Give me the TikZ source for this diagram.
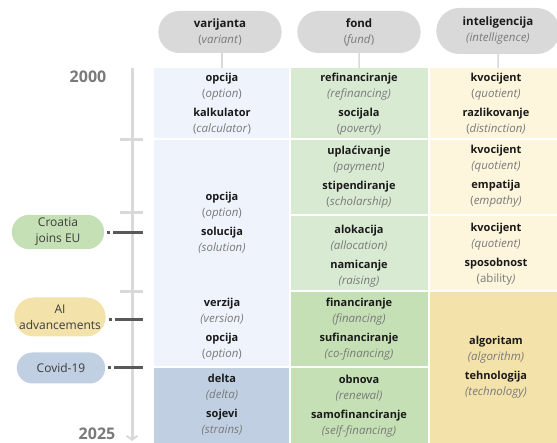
\documentclass[tikz,border=0pt]{standalone}
\usepackage{fontspec}
\setmainfont{Open Sans}
\usepackage{tikz}
\usetikzlibrary{calc}
\usetikzlibrary{shapes.misc}
\usetikzlibrary{arrows.meta}

\definecolor{hdrgray}{HTML}{D9D9D9}
\definecolor{varlight}{HTML}{EEF3FC}
\definecolor{vardark}{HTML}{C0CFE2}
\definecolor{fondlight}{HTML}{D9EAD3}
\definecolor{fonddark}{HTML}{C5E0B4}
\definecolor{intlight}{HTML}{FDF5DC}
\definecolor{intdark}{HTML}{F3E2AA}
\definecolor{transgray}{HTML}{7A7A7A}
\definecolor{markgray}{HTML}{595959}
\definecolor{darktext}{HTML}{1A1A1A}

% word with its translation below
\newcommand{\wrd}[2]{\textbf{#1}\\{\color{transgray}\fontsize{11.5}{16}\selectfont#2}}

\begin{document}
\begin{tikzpicture}[x=1pt,y=-1pt,
    header/.style={rounded rectangle, fill=hdrgray, minimum width=130pt, minimum height=42pt, align=center, text=darktext, font=\fontsize{11.5}{16}\selectfont},
    event/.style={rounded rectangle, minimum height=33pt, align=center, text=darktext!85, font=\fontsize{12}{16}\selectfont},
    words/.style={align=center, text=darktext, font=\fontsize{11}{16}\selectfont},
    hdrline/.style={hdrgray, line width=1.5pt},
    timeline/.style={hdrgray, line width=3pt},
    evline/.style={markgray, line width=3pt, dash pattern=on 3pt off 3pt on 40pt off 3pt},
    year/.style={text=transgray, font=\fontsize{16}{16}\selectfont\bfseries}]

            % Define the grid of the table
            \def\ytop{68}    % top of the columns
            \def\ybot{450}   % bottom (runs off the page)
            \def\tl{132}     % x of the time line

            \useasboundingbox (0,0) rectangle (557,443);

            % Coordinates for the column tops
            \coordinate (vtop) at (222,\ytop);
            \coordinate (ftop) at (359,\ytop);
            \coordinate (itop) at (498,\ytop);

            % Draw the cells of varijanta
            \fill[varlight] (154,\ytop) rectangle (289,138);
            \fill[varlight] (154,140) rectangle (289,366);
            \fill[vardark] (154,368) rectangle (289,\ybot);

            % Draw the cells of fond
            \fill[fondlight] (291,\ytop) rectangle (428,138);
            \fill[fondlight] (291,140) rectangle (428,214);
            \fill[fondlight] (291,216) rectangle (428,290);
            \fill[fonddark] (291,292) rectangle (428,366);
            \fill[fonddark] (291,368) rectangle (428,\ybot);

            % Draw the cells of inteligencija
            \fill[intlight] (430,\ytop) rectangle (560,138);
            \fill[intlight] (430,140) rectangle (560,214);
            \fill[intlight] (430,216) rectangle (560,290);
            \fill[intdark] (430,292) rectangle (560,\ybot);

            % Draw headers
            \node[header] (hvar) at (220,32) {\textbf{varijanta}\\{\color{transgray}(\textit{variant})}};
            \node[header] (hfond) at (359,32) {\textbf{fond}\\{\color{transgray}(\textit{fund})}};
            \node[header, minimum height=46pt] (hint) at (498,31) {\textbf{inteligencija}\\{\color{transgray}\textit{(intelligence)}}};
            \draw[hdrline] (hvar.south -| vtop) -- (vtop);
            \draw[hdrline] (hfond) -- (ftop);
            \draw[hdrline] (hint) -- (itop);

            % Words of varijanta
            \node[words] (v1) at (222,104) {\wrd{opcija}{(\textit{option})}\\[3pt]\wrd{kalkulator}{(\textit{calculator})}};
            \node[words] (v2) at (222,223) {\wrd{opcija}{(\textit{option})}\\[3pt]\wrd{solucija}{\textit{(solution)}}};
            \node[words] (v3) at (222,329) {\wrd{verzija}{\textit{(version)}}\\[3pt]\wrd{opcija}{(\textit{option})}};
            \node[words] (v4) at (222,405) {\wrd{delta}{\textit{(delta)}}\\[3pt]\wrd{sojevi}{\textit{(strains)}}};

            % Words of fond
            \node[words] (f1) at (359,104) {\wrd{refinanciranje}{\textit{(refinancing)}}\\[3pt]\wrd{socijala}{(\textit{poverty)}}};
            \node[words] (f2) at (359,177) {\wrd{uplaćivanje}{\textit{(payment)}}\\[3pt]\wrd{stipendiranje}{(\textit{scholarship)}}};
            \node[words] (f3) at (359,256) {\wrd{alokacija}{\textit{(allocation)}}\\[3pt]\wrd{namicanje}{\textit{(raising)}}};
            \node[words] (f4) at (359,329) {\wrd{financiranje}{\textit{(financing)}}\\[3pt]\wrd{sufinanciranje}{\textit{(co-financing)}}};
            \node[words] (f5) at (359,406) {\wrd{obnova}{\textit{(renewal)}}\\[3pt]\wrd{samofinanciranje}{\textit{(self-financing)}}};

            % Words of inteligencija
            \node[words] (i1) at (496,104) {\wrd{kvocijent}{(\textit{quotient)}}\\[3pt]\wrd{razlikovanje}{(\textit{distinction)}}};
            \node[words] (i2) at (496,176) {\wrd{kvocijent}{\textit{(quotient)}}\\[3pt]\wrd{empatija}{(\textit{empathy)}}};
            \node[words] (i3) at (496,254) {\wrd{kvocijent}{\textit{(quotient)}}\\[3pt]\wrd{sposobnost}{(ability\textit{)}}};
            \node[words] (i4) at (496,367) {\wrd{algoritam}{\textit{(algorithm)}}\\[3pt]\wrd{tehnologija}{\textit{(technology)}}};

            % Draw the time line
            \draw[timeline, -{Straight Barb[length=4pt,width=11pt,line width=2pt]}] (\tl,\ytop) -- (\tl,441);
            \foreach \y in {140,213,292}
                \draw[timeline] (120,\y) -- (143,\y);
            \node[year] (y2000) at (88,77) {2000};
            \node[year] (y2025) at (97,434) {2025};

            % Draw the events
            \coordinate (e2013) at (143,233);
            \coordinate (eai) at (143,320);
            \coordinate (ecovid) at (143,368);
            \node[event, fill=fonddark, minimum width=99pt] (croatia) at (58,232) {Croatia\\joins EU};
            \node[event, fill=intdark, minimum width=98pt, minimum height=39pt] (ai) at (60,317) {AI\\advancements};
            \node[event, fill=vardark, minimum width=95pt, minimum height=31pt] (covid) at (61,368) {Covid-19};
            \draw[evline] ([xshift=3pt]croatia.east |- e2013) -- (e2013);
            \draw[evline] ([xshift=3pt]ai.east |- eai) -- (eai);
            \draw[evline] ([xshift=3pt]covid.east |- ecovid) -- (ecovid);

\end{tikzpicture}
\end{document}
